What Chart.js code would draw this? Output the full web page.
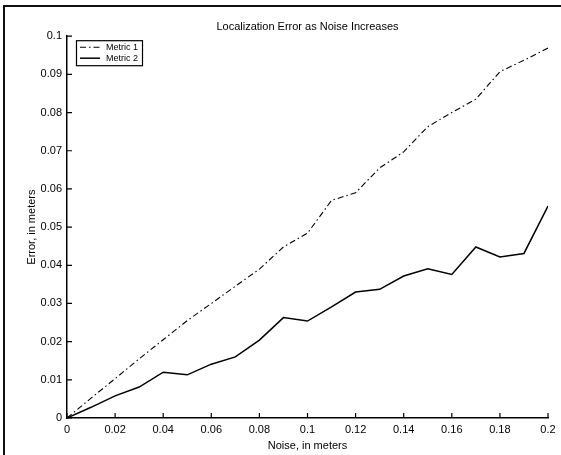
<!DOCTYPE html>
<html><head><meta charset="utf-8">
<script src="https://cdn.jsdelivr.net/npm/chart.js@4.4.1/dist/chart.umd.min.js"></script>
<style>
html,body{margin:0;padding:0;background:#fff;}
#wrap{position:relative;width:561px;height:455px;overflow:hidden;background:#fff;}
#c{position:absolute;left:0;top:0;}
.fr{position:absolute;background:#111;}
</style></head><body>
<div id="wrap">
<canvas id="c" width="561" height="455"></canvas>
<div class="fr" style="left:4px;top:5px;width:557px;height:2px;"></div>
<div class="fr" style="left:3px;top:5px;width:2px;height:450px;"></div>
</div>
<script>
const noise = [0, 0.01, 0.02, 0.03, 0.04, 0.05, 0.06, 0.07, 0.08, 0.09, 0.10, 0.11, 0.12, 0.13, 0.14, 0.15, 0.16, 0.17, 0.18, 0.19, 0.20];
const metric1 = [0, 0.0052, 0.0103, 0.0155, 0.0205, 0.0255, 0.0300, 0.0345, 0.0390, 0.0448, 0.0484, 0.0570, 0.0590, 0.0655, 0.0697, 0.0763, 0.0800, 0.0835, 0.0907, 0.0937, 0.0969];
const metric2 = [0, 0.0028, 0.0058, 0.0081, 0.0120, 0.0113, 0.0141, 0.0160, 0.0204, 0.0263, 0.0254, 0.0291, 0.0330, 0.0337, 0.0372, 0.0391, 0.0376, 0.0448, 0.0422, 0.0431, 0.0555];
const xTicks = [0, 0.02, 0.04, 0.06, 0.08, 0.1, 0.12, 0.14, 0.16, 0.18, 0.2];
const yTicks = [0, 0.01, 0.02, 0.03, 0.04, 0.05, 0.06, 0.07, 0.08, 0.09, 0.1];
const seriesLabels = ['Metric 1', 'Metric 2'];
const titleText = 'Localization Error as Noise Increases';
const xLabel = 'Noise, in meters';
const yLabel = 'Error, in meters';

const FONT = '"Liberation Sans", Arial, sans-serif';
Chart.defaults.color = '#000';
Chart.defaults.font.family = FONT;

const inwardTicks = {
  id: 'inwardTicks',
  afterDraw(chart) {
    const ctx = chart.ctx, a = chart.chartArea;
    const xs = chart.scales.x, ys = chart.scales.y;
    ctx.save();
    ctx.strokeStyle = '#000';
    ctx.lineWidth = 1.2;
    ctx.beginPath();
    xTicks.forEach(v => { const px = xs.getPixelForValue(v); ctx.moveTo(px, a.bottom); ctx.lineTo(px, a.bottom - 5); });
    yTicks.forEach(v => { const py = ys.getPixelForValue(v); ctx.moveTo(a.left, py); ctx.lineTo(a.left + 5, py); });
    ctx.stroke();
    ctx.restore();
  }
};

const boxLegend = {
  id: 'boxLegend',
  afterDraw(chart) {
    const ctx = chart.ctx, a = chart.chartArea;
    const x0 = a.left + 9, y0 = a.top + 4, w = 66, h = 25;
    ctx.save();
    ctx.fillStyle = '#fff';
    ctx.fillRect(x0, y0, w, h);
    ctx.strokeStyle = '#000';
    ctx.lineWidth = 1.2;
    ctx.strokeRect(x0 + 0.5, y0 + 0.5, w, h);
    ctx.font = '9px ' + FONT;
    ctx.textBaseline = 'middle';
    ctx.fillStyle = '#000';
    chart.data.datasets.forEach((ds, i) => {
      const yy = y0 + 7 + i * 11;
      ctx.beginPath();
      ctx.setLineDash(ds.borderDash || []);
      ctx.lineWidth = ds.borderWidth;
      ctx.moveTo(x0 + 4, yy);
      ctx.lineTo(x0 + 24, yy);
      ctx.stroke();
      ctx.setLineDash([]);
      ctx.fillText(ds.label, x0 + 30, yy);
    });
    ctx.restore();
  }
};

const fmt = v => String(Number(v.toFixed(2)));

new Chart(document.getElementById('c'), {
  type: 'line',
  data: {
    datasets: [
      { label: seriesLabels[0], data: noise.map((x, i) => ({ x, y: metric1[i] })), borderColor: '#000', borderWidth: 1.1, borderDash: [6, 3, 1.5, 3], pointRadius: 0, tension: 0, fill: false },
      { label: seriesLabels[1], data: noise.map((x, i) => ({ x, y: metric2[i] })), borderColor: '#000', borderWidth: 1.5, pointRadius: 0, tension: 0, fill: false }
    ]
  },
  options: {
    responsive: false,
    animation: false,
    events: [],
    layout: { padding: { left: 0, right: 13, top: 0, bottom: 0 } },
    plugins: {
      legend: { display: false },
      tooltip: { enabled: false },
      title: { display: true, fullSize: false, text: titleText, font: { size: 11, weight: 'normal', family: FONT }, color: '#000', padding: { top: 20, bottom: 3 } }
    },
    scales: {
      x: {
        type: 'linear', min: 0, max: 0.2,
        afterBuildTicks: s => { s.ticks = xTicks.map(v => ({ value: v })); },
        afterFit: s => { s.height = 37; s.paddingLeft = 0; s.paddingRight = 0; },
        ticks: { callback: v => fmt(v), font: { size: 11, family: FONT }, color: '#000', padding: 5, maxRotation: 0, autoSkip: false },
        grid: { display: false, drawTicks: false },
        border: { display: true, color: '#000', width: 1.5 },
        title: { display: true, text: xLabel, font: { size: 11, family: FONT }, color: '#000', padding: { top: 0, bottom: 2 } }
      },
      y: {
        type: 'linear', min: 0, max: 0.1,
        afterBuildTicks: s => { s.ticks = yTicks.map(v => ({ value: v })); },
        afterFit: s => { s.width = 67; s.paddingTop = 0; s.paddingBottom = 0; },
        ticks: { callback: v => fmt(v), font: { size: 11, family: FONT }, color: '#000', padding: 5, autoSkip: false },
        grid: { display: false, drawTicks: false },
        border: { display: true, color: '#000', width: 1.5 },
        title: { display: true, text: yLabel, font: { size: 11, family: FONT }, color: '#000', padding: { top: 25, bottom: 0 } }
      }
    }
  },
  plugins: [inwardTicks, boxLegend]
});
</script>
</body></html>
